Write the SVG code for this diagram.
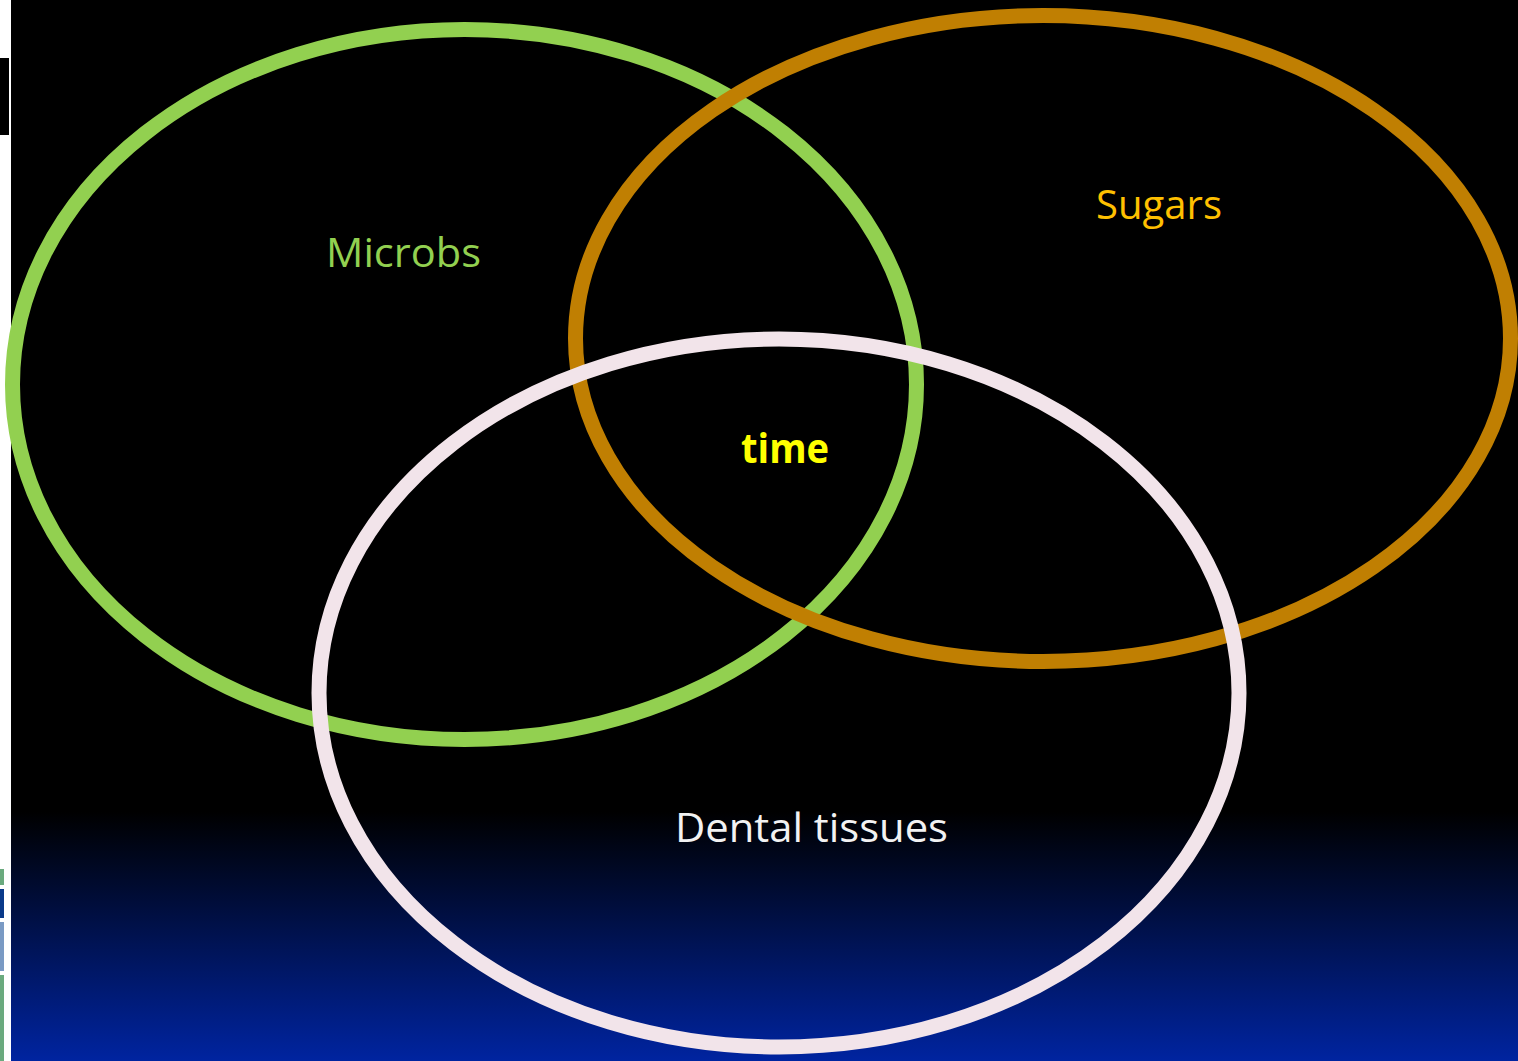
<svg xmlns="http://www.w3.org/2000/svg" width="1518" height="1061" viewBox="0 0 1518 1061">
<defs>
<linearGradient id="bg" x1="0" y1="0" x2="0" y2="1061" gradientUnits="userSpaceOnUse">
<stop offset="0" stop-color="#000000"/>
<stop offset="0.765" stop-color="#000000"/>
<stop offset="1" stop-color="#0024a0"/>
</linearGradient>
<style>
.ring{fill:none;stroke-width:15}
.lbl{font-family:"Open Sans","Liberation Sans",sans-serif;font-size:41px}
</style>
</defs>
<rect x="0" y="0" width="1518" height="1061" fill="#ffffff"/>
<rect x="11" y="0" width="1507" height="1061" fill="url(#bg)"/>
<rect x="0" y="58" width="9" height="77" fill="#000000"/>
<rect x="0" y="869" width="4" height="16" fill="#6aaa7e"/>
<rect x="0" y="889" width="4" height="29" fill="#0a3a8a"/>
<rect x="0" y="922" width="4" height="49" fill="#7a9ac4"/>
<rect x="0" y="975" width="4" height="86" fill="#6aaa7e"/>
<g id="microbs">
<ellipse class="ring" cx="464.5" cy="384.5" rx="452" ry="355" stroke="#92d050"/>
<text class="lbl" x="326" y="267" fill="#92d050" textLength="155" lengthAdjust="spacingAndGlyphs">Microbs</text>
</g>
<g id="sugars">
<ellipse class="ring" cx="1043" cy="338.5" rx="467.5" ry="323" stroke="#c07f02"/>
<text class="lbl" x="1096" y="219" fill="#ffc000" textLength="126" lengthAdjust="spacingAndGlyphs">Sugars</text>
</g>
<g id="dental">
<ellipse class="ring" cx="779" cy="693" rx="460" ry="354" stroke="#f2e4ea"/>
<text class="lbl" x="675" y="842" fill="#f2f2f2" textLength="273" lengthAdjust="spacingAndGlyphs">Dental tissues</text>
</g>
<g id="time">
<text class="lbl" x="741" y="463" fill="#ffff00" font-weight="bold" textLength="88" lengthAdjust="spacingAndGlyphs">time</text>
</g>
<g id="connectors"></g>
</svg>
